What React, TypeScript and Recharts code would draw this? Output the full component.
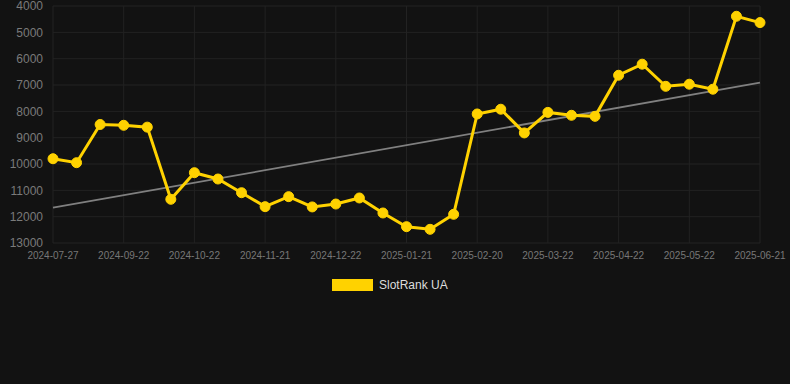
// SlotRank UA rank history: gold line with dots on an inverted rank axis,
// plus a grey straight trend line, on a near-black card.

import { CartesianGrid, Line, LineChart, XAxis, YAxis } from 'recharts'

const dates = [
  '2024-07-27', '2024-08-16', '2024-09-04', '2024-09-22', '2024-10-02', '2024-10-12',
  '2024-10-22', '2024-11-01', '2024-11-11', '2024-11-21', '2024-12-01', '2024-12-11',
  '2024-12-22', '2025-01-01', '2025-01-11', '2025-01-21', '2025-01-31', '2025-02-10',
  '2025-02-20', '2025-03-02', '2025-03-12', '2025-03-22', '2025-04-01', '2025-04-11',
  '2025-04-22', '2025-05-02', '2025-05-12', '2025-05-22', '2025-06-01', '2025-06-11',
  '2025-06-21',
]

const rank = [
  9800, 9950, 8500, 8530, 8600, 11340, 10330, 10570, 11090, 11620, 11240, 11630,
  11520, 11290, 11860, 12380, 12480, 11910, 8100, 7920, 8820, 8040, 8150, 8190,
  6630, 6210, 7050, 6970, 7160, 4390, 4630,
]

// trend line: only its two ends are known, the line joins them
const trendStart = 11660
const trendEnd = 6910

const yTicks = [4000, 5000, 6000, 7000, 8000, 9000, 10000, 11000, 12000, 13000]

const data = dates.map((d, i) => ({
  date: d,
  rank: rank[i],
  trend: i === 0 ? trendStart : i === dates.length - 1 ? trendEnd : null,
}))

if (typeof document !== 'undefined') document.body.style.margin = '0'

export default function App() {
  return (
    <div
      style={{
        position: 'relative',
        width: 790,
        height: 384,
        background: '#121212',
        fontFamily: 'Arial, "Liberation Sans", sans-serif',
      }}
    >
      <LineChart
        width={790}
        height={260}
        data={data}
        margin={{ top: 6, right: 30, left: 0, bottom: 0 }}
      >
        <CartesianGrid stroke="#222222" strokeWidth={1} />
        <XAxis
          dataKey="date"
          interval={2}
          height={17}
          tickLine={false}
          axisLine={false}
          tickSize={6}
          tickMargin={3}
          tick={{ fill: '#777777', fontSize: 10 }}
        />
        <YAxis
          reversed
          domain={[4000, 13000]}
          ticks={yTicks}
          interval={0}
          width={53}
          tickLine={false}
          axisLine={false}
          tickSize={6}
          tickMargin={4}
          tick={{ fill: '#7a7a7a', fontSize: 12 }}
        />
        <Line
          dataKey="trend"
          stroke="#808080"
          strokeWidth={1.8}
          dot={false}
          connectNulls
          isAnimationActive={false}
        />
        <Line
          dataKey="rank"
          stroke="#FFD200"
          strokeWidth={3}
          dot={{ r: 5, fill: '#FFD200', stroke: '#FFD200', strokeWidth: 1 }}
          activeDot={false}
          isAnimationActive={false}
        />
      </LineChart>
      <div
        style={{
          position: 'absolute',
          top: 278,
          left: 332,
          display: 'flex',
          alignItems: 'center',
          gap: 6,
        }}
      >
        <span style={{ width: 41, height: 12, background: '#FFD200', display: 'inline-block' }} />
        <span style={{ color: '#dddddd', fontSize: 12 }}>SlotRank UA</span>
      </div>
    </div>
  )
}
